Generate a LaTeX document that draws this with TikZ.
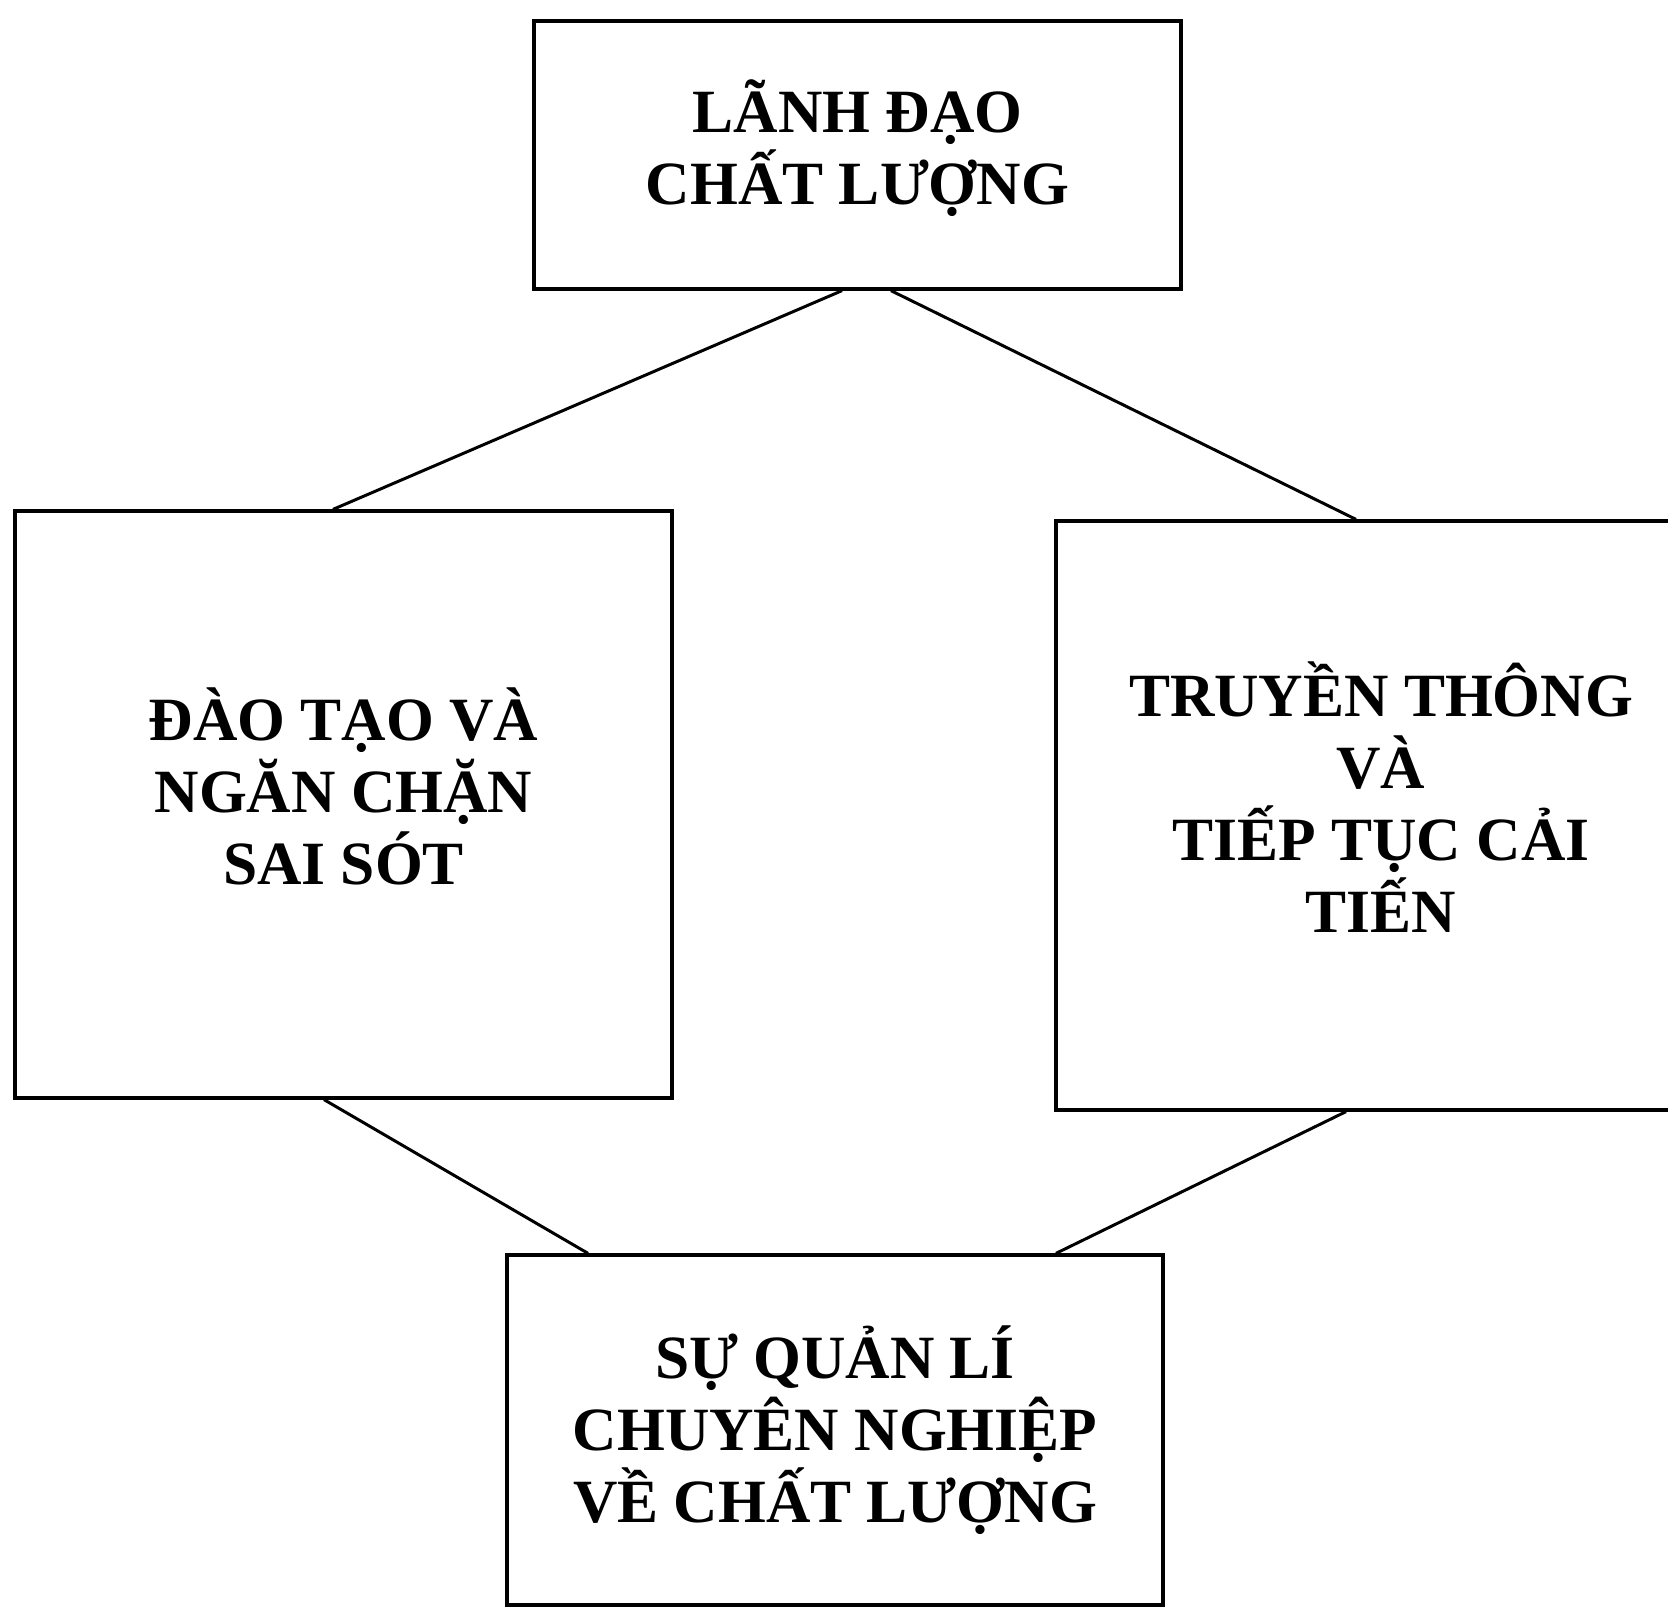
\documentclass[tikz,border=0pt]{standalone}
\usepackage{fontspec}
\setmainfont{Liberation Serif}
\begin{document}
\begin{tikzpicture}[x=0.02cm,y=-0.02cm,
  box/.style={draw,line width=1.9pt,inner sep=0pt},
  txt/.style={align=center,inner sep=0pt,
    font=\bfseries\fontsize{35}{41}\selectfont},
  link/.style={line width=1.7pt}]
  \clip (0,0) rectangle (1668,1610);
  % the four boxes
  \node[box,minimum width=12.94cm,minimum height=5.36cm] (lead) at (857.5,155) {};
  \node[box,minimum width=13.14cm,minimum height=11.74cm] (train) at (343.5,804.5) {};
  \node[box,minimum width=13cm,minimum height=11.78cm] (comm) at (1381,815.5) {};
  \node[box,minimum width=13.12cm,minimum height=7cm] (mgmt) at (835,1430) {};
  % their texts
  \node[txt] (leadText) at ([yshift=0.13cm]lead.center) {LÃNH ĐẠO\\CHẤT LƯỢNG};
  \node[txt] (trainText) at ([yshift=0.36cm]train.center) {ĐÀO TẠO VÀ\\NGĂN CHẶN\\SAI SÓT};
  \node[txt] (commText) at ([yshift=0.36cm]comm.center) {TRUYỀN THÔNG\\VÀ\\TIẾP TỤC CẢI\\TIẾN};
  \node[txt] (mgmtText) at (mgmt.center) {SỰ QUẢN LÍ\\CHUYÊN NGHIỆP\\VỀ CHẤT LƯỢNG};
  % links
  \draw[link] ([xshift=-0.31cm]lead.south) -- ([xshift=-0.21cm]train.north);
  \draw[link] ([xshift=0.67cm]lead.south) -- ([xshift=-0.5cm]comm.north);
  \draw[link] ([xshift=-0.39cm]train.south) -- ([xshift=-4.94cm]mgmt.north);
  \draw[link] ([xshift=-0.7cm]comm.south) -- ([xshift=4.42cm]mgmt.north);
\end{tikzpicture}
\end{document}
